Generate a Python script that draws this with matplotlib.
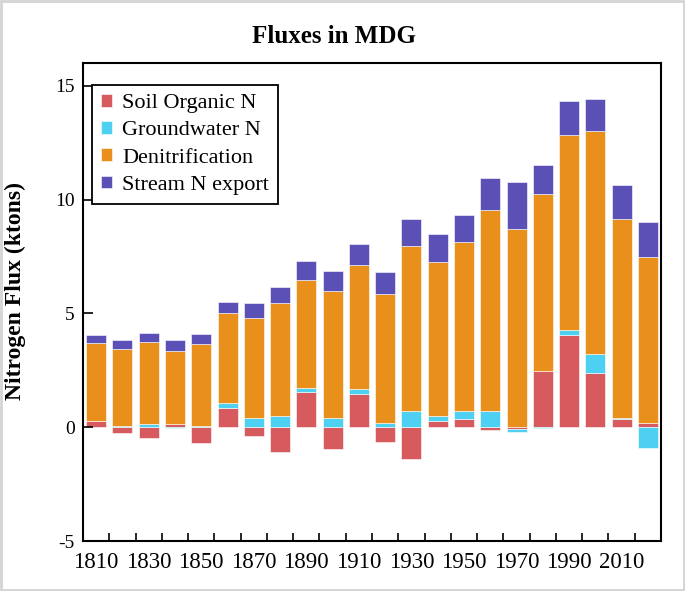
import numpy as np
import matplotlib
matplotlib.use('Agg')
from matplotlib import pyplot as plt
from matplotlib.patches import Rectangle

plt.rcParams['font.family'] = ['Liberation Serif', 'DejaVu Serif']
plt.rcParams['axes.unicode_minus'] = False

# decades 1810 .. 2020
years = list(range(1810, 2030, 10))
tick_labels = [str(y) for y in range(1810, 2020, 20)]

soil_n = [0.29, -0.25, -0.47, 0.12, -0.69, 0.85, -0.39, -1.07, 1.56, -0.98, 1.48,
          -0.63, -1.39, 0.29, 0.37, -0.12, -0.10, 2.49, 4.05, 2.40, 0.38, 0.18]
ground_n = [0.0, 0.04, 0.12, -0.05, 0.05, 0.22, 0.39, 0.47, 0.16, 0.42, 0.18,
            0.18, 0.69, 0.22, 0.32, 0.73, -0.09, -0.03, 0.22, 0.82, 0.02, -0.92]
denit = [3.39, 3.39, 3.61, 3.23, 3.61, 3.93, 4.42, 4.99, 4.74, 5.58, 5.45,
         5.66, 7.27, 6.73, 7.44, 8.83, 8.71, 7.75, 8.55, 9.78, 8.74, 7.31]
stream_n = [0.37, 0.41, 0.41, 0.47, 0.45, 0.50, 0.64, 0.72, 0.82, 0.85, 0.94,
            0.96, 1.18, 1.23, 1.21, 1.40, 2.08, 1.27, 1.52, 1.43, 1.49, 1.52]

series = [('Soil Organic N', soil_n, '#D65A5E'),
          ('Groundwater N', ground_n, '#4DD0F2'),
          ('Denitrification', denit, '#E8901B'),
          ('Stream N export', stream_n, '#5A50B6')]

fig = plt.figure(figsize=(6.85, 5.91), dpi=100)
ax = fig.add_axes([0.1212, 0.0846, 0.8438, 0.8088])

x = np.arange(len(years))
pos_bottom = np.zeros(len(years))
neg_bottom = np.zeros(len(years))
for name, vals, col in series:
    v = np.array(vals)
    bottom = np.where(v >= 0, pos_bottom, neg_bottom)
    ax.bar(x, v, width=0.76, bottom=bottom, color=col, label=name,
           edgecolor='white', linewidth=0.4)
    pos_bottom = pos_bottom + np.where(v >= 0, v, 0)
    neg_bottom = neg_bottom + np.where(v < 0, v, 0)

ax.set_xlim(-0.5, len(years) - 0.5)
ax.set_ylim(-5, 16)
ax.set_yticks([-5, 0, 5, 10, 15])
ax.tick_params(axis='y', direction='in', length=7, width=1.2, labelsize=14, pad=6)

# category boundaries as ticks, labels every second decade
ax.set_xticks(x[::2])
ax.set_xticklabels(tick_labels)
ax.set_xticks(np.arange(0.5, len(years) - 1, 1), minor=True)
ax.tick_params(axis='x', which='major', length=0, labelsize=16.5, pad=8)
ax.tick_params(axis='x', which='minor', direction='in', length=6, width=1.2)

for s in ax.spines.values():
    s.set_linewidth(1.5)

ax.set_ylabel('Nitrogen Flux (ktons)', fontsize=17, fontweight='bold')
ax.yaxis.set_label_coords(-0.098, 0.523)

fig.text(0.4876, 0.938, 'Fluxes in MDG', ha='center', va='center',
         fontsize=18, fontweight='bold')

leg = ax.legend(loc='upper left', bbox_to_anchor=(0.0156, 0.954), borderaxespad=0,
                fontsize=16, handlelength=0.5, handleheight=0.5, handletextpad=0.45,
                labelspacing=0.36, borderpad=0.4, fancybox=False, framealpha=1)
leg.get_frame().set_edgecolor('black')
leg.get_frame().set_linewidth(1.3)

fig.patches.append(Rectangle((0.002, 0.002), 0.996, 0.996, transform=fig.transFigure,
                             fill=False, edgecolor='#d4d4d4', linewidth=2))

fig.savefig('out.png', dpi=100)
